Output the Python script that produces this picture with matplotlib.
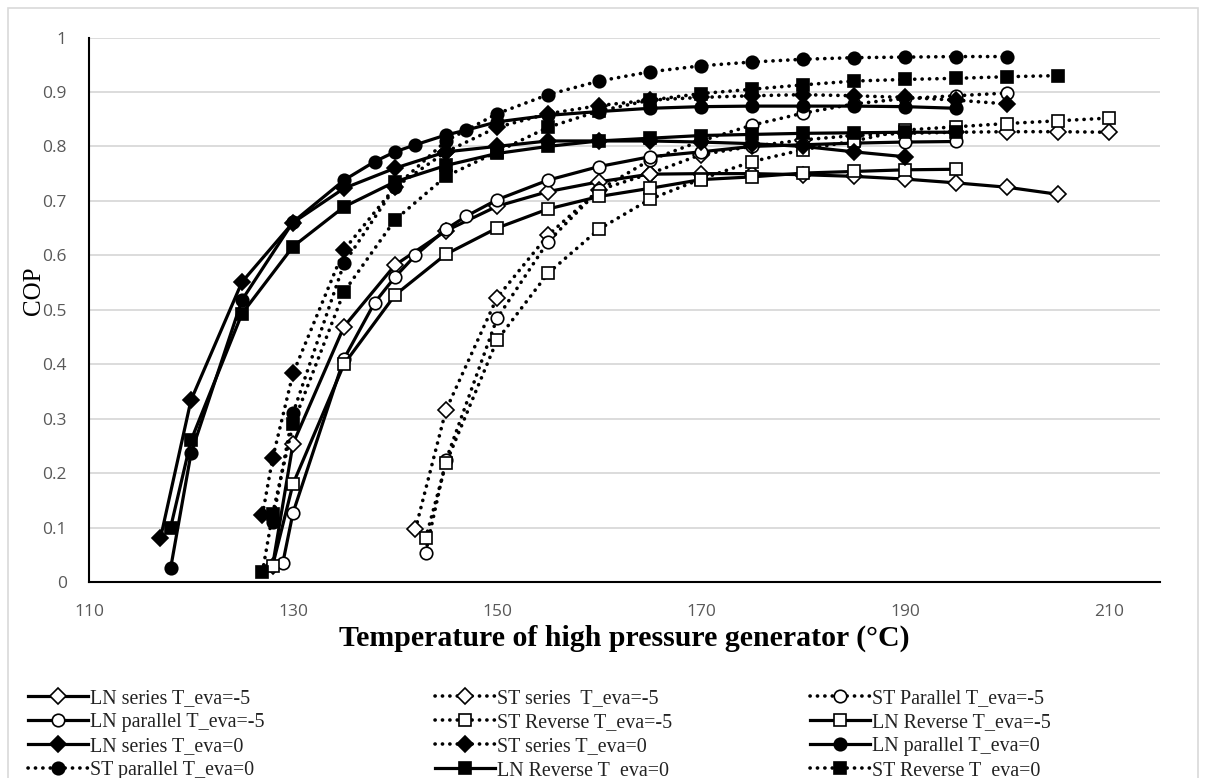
import numpy as np
import matplotlib.pyplot as plt
from matplotlib.patches import Rectangle

# data (T in degC, COP)
t_ln_series_m5 = [128, 130, 135, 140, 145, 150, 155, 160, 165, 170, 175, 180, 185, 190, 195, 200, 205]
cop_ln_series_m5 = [0.03, 0.254, 0.469, 0.582, 0.645, 0.69, 0.717, 0.735, 0.749, 0.75, 0.75, 0.748, 0.745, 0.74, 0.733, 0.725, 0.712]

t_st_series_m5 = [142, 145, 150, 155, 160, 165, 170, 175, 180, 185, 190, 195, 200, 205, 210]
cop_st_series_m5 = [0.097, 0.316, 0.522, 0.637, 0.72, 0.75, 0.785, 0.80, 0.812, 0.82, 0.824, 0.826, 0.827, 0.827, 0.826]

t_st_parallel_m5 = [143, 145, 150, 155, 160, 165, 170, 175, 180, 185, 190, 195, 200]
cop_st_parallel_m5 = [0.054, 0.224, 0.484, 0.625, 0.72, 0.775, 0.81, 0.839, 0.861, 0.878, 0.888, 0.893, 0.898]

t_ln_parallel_m5 = [129, 130, 135, 138, 140, 142, 145, 147, 150, 155, 160, 165, 170, 175, 180, 185, 190, 195]
cop_ln_parallel_m5 = [0.035, 0.127, 0.41, 0.513, 0.56, 0.60, 0.648, 0.672, 0.702, 0.738, 0.763, 0.781, 0.79, 0.80, 0.803, 0.806, 0.808, 0.809]

t_st_reverse_m5 = [143, 145, 150, 155, 160, 165, 170, 175, 180, 185, 190, 195, 200, 205, 210]
cop_st_reverse_m5 = [0.08, 0.218, 0.444, 0.567, 0.648, 0.703, 0.74, 0.772, 0.794, 0.81, 0.83, 0.836, 0.842, 0.847, 0.852]

t_ln_reverse_m5 = [128, 130, 135, 140, 145, 150, 155, 160, 165, 170, 175, 180, 185, 190, 195]
cop_ln_reverse_m5 = [0.03, 0.18, 0.40, 0.527, 0.602, 0.65, 0.685, 0.708, 0.723, 0.739, 0.744, 0.751, 0.754, 0.757, 0.758]

t_ln_series_0 = [117, 120, 125, 130, 135, 140, 145, 150, 155, 160, 165, 170, 175, 180, 185, 190]
cop_ln_series_0 = [0.08, 0.334, 0.551, 0.66, 0.723, 0.76, 0.79, 0.80, 0.81, 0.81, 0.81, 0.808, 0.805, 0.80, 0.79, 0.781]

t_st_series_0 = [127, 128, 130, 135, 140, 145, 150, 155, 160, 165, 170, 175, 180, 185, 190, 195, 200]
cop_st_series_0 = [0.123, 0.227, 0.383, 0.61, 0.725, 0.79, 0.835, 0.86, 0.875, 0.885, 0.89, 0.893, 0.895, 0.893, 0.89, 0.885, 0.878]

t_ln_parallel_0 = [118, 120, 125, 130, 135, 138, 140, 142, 145, 147, 150, 155, 160, 165, 170, 175, 180, 185, 190, 195]
cop_ln_parallel_0 = [0.025, 0.236, 0.518, 0.661, 0.738, 0.772, 0.79, 0.803, 0.821, 0.83, 0.845, 0.857, 0.864, 0.87, 0.873, 0.874, 0.874, 0.874, 0.873, 0.87]

t_st_parallel_0 = [128, 130, 135, 140, 145, 150, 155, 160, 165, 170, 175, 180, 185, 190, 195, 200]
cop_st_parallel_0 = [0.11, 0.31, 0.585, 0.725, 0.81, 0.86, 0.895, 0.92, 0.937, 0.948, 0.955, 0.96, 0.963, 0.964, 0.965, 0.965]

t_ln_reverse_0 = [118, 120, 125, 130, 135, 140, 145, 150, 155, 160, 165, 170, 175, 180, 185, 190, 195]
cop_ln_reverse_0 = [0.10, 0.26, 0.493, 0.616, 0.689, 0.735, 0.765, 0.787, 0.80, 0.81, 0.815, 0.82, 0.822, 0.824, 0.825, 0.826, 0.826]

t_st_reverse_0 = [127, 128, 130, 135, 140, 145, 150, 155, 160, 165, 170, 175, 180, 185, 190, 195, 200, 205]
cop_st_reverse_0 = [0.018, 0.125, 0.29, 0.533, 0.665, 0.745, 0.79, 0.835, 0.865, 0.885, 0.897, 0.905, 0.913, 0.92, 0.923, 0.925, 0.928, 0.93]

# legend order, row by row like the original
series = [
    ("LN series T_eva=-5", t_ln_series_m5, cop_ln_series_m5, "solid", "D", "white"),
    ("ST series  T_eva=-5", t_st_series_m5, cop_st_series_m5, "dot", "D", "white"),
    ("ST Parallel T_eva=-5", t_st_parallel_m5, cop_st_parallel_m5, "dot", "o", "white"),
    ("LN parallel T_eva=-5", t_ln_parallel_m5, cop_ln_parallel_m5, "solid", "o", "white"),
    ("ST Reverse T_eva=-5", t_st_reverse_m5, cop_st_reverse_m5, "dot", "s", "white"),
    ("LN Reverse T_eva=-5", t_ln_reverse_m5, cop_ln_reverse_m5, "solid", "s", "white"),
    ("LN series T_eva=0", t_ln_series_0, cop_ln_series_0, "solid", "D", "black"),
    ("ST series T_eva=0", t_st_series_0, cop_st_series_0, "dot", "D", "black"),
    ("LN parallel T_eva=0", t_ln_parallel_0, cop_ln_parallel_0, "solid", "o", "black"),
    ("ST parallel T_eva=0", t_st_parallel_0, cop_st_parallel_0, "dot", "o", "black"),
    ("LN Reverse T_eva=0", t_ln_reverse_0, cop_ln_reverse_0, "solid", "s", "black"),
    ("ST Reverse T_eva=0", t_st_reverse_0, cop_st_reverse_0, "dot", "s", "black"),
]

msize = {"D": 7.8, "o": 9, "s": 8.5}

fig = plt.figure(figsize=(12.06, 7.78), dpi=100)
ax = fig.add_axes([89 / 1206, 1 - 582 / 778, (1160 - 89) / 1206, (582 - 37.5) / 778])

handles = []
for name, t, cop, ls, mk, face in series:
    if ls == "solid":
        kw = dict(linestyle="-", linewidth=2.3)
    else:
        kw = dict(linestyle=(0, (0.05, 2.0)), linewidth=2.6, dash_capstyle="round")
    h, = ax.plot(t, cop, color="black", marker=mk, markersize=msize[mk],
                 markerfacecolor=face, markeredgecolor="black", markeredgewidth=1.2,
                 label=name, **kw)
    handles.append(h)

ax.set_xlim(110, 215)
ax.set_ylim(0, 1)
ax.set_xticks(np.arange(110, 211, 20))
ax.set_yticks(np.arange(0, 1.01, 0.1))
ax.set_yticklabels(["0", "0.1", "0.2", "0.3", "0.4", "0.5", "0.6", "0.7", "0.8", "0.9", "1"])
ax.grid(axis="y", color="#d9d9d9", linewidth=1.3)
ax.set_axisbelow(True)
for s in ["top", "right"]:
    ax.spines[s].set_visible(False)
for s in ["left", "bottom"]:
    ax.spines[s].set_color("black")
    ax.spines[s].set_linewidth(1.5)
ax.tick_params(length=0, labelsize=12.5, labelcolor="#595959")
ax.tick_params(axis="x", pad=16)
ax.tick_params(axis="y", pad=16)
for lab in ax.get_xticklabels() + ax.get_yticklabels():
    lab.set_family("Open Sans")

ax.set_xlabel("Temperature of high pressure generator (°C)", family="Liberation Serif",
              fontsize=21.5, fontweight="bold", labelpad=3)
ax.set_ylabel("COP", family="Liberation Serif", fontsize=18)
ax.yaxis.set_label_coords(-0.041, 0.535)

# legend: three columns placed like the original
col_x = [28 / 1206, 435 / 1206, 810 / 1206]
for c in range(3):
    hs = [handles[r * 3 + c] for r in range(4)]
    leg = fig.legend(handles=hs, labels=[h.get_label() for h in hs], loc="upper left",
                     bbox_to_anchor=(col_x[c], 1 - 689 / 778), frameon=False,
                     prop={"family": "Liberation Serif", "size": 14.4},
                     handlelength=3.0, handletextpad=0.1, labelspacing=0.25,
                     borderaxespad=0, borderpad=0)
    for txt in leg.get_texts():
        txt.set_color("#222222")

fig.patches.append(Rectangle((8 / 1206, -0.01), (1198 - 8) / 1206, 1.0, transform=fig.transFigure,
                             fill=False, edgecolor="#d9d9d9", linewidth=1.2))

fig.savefig("out.png", dpi=100)
